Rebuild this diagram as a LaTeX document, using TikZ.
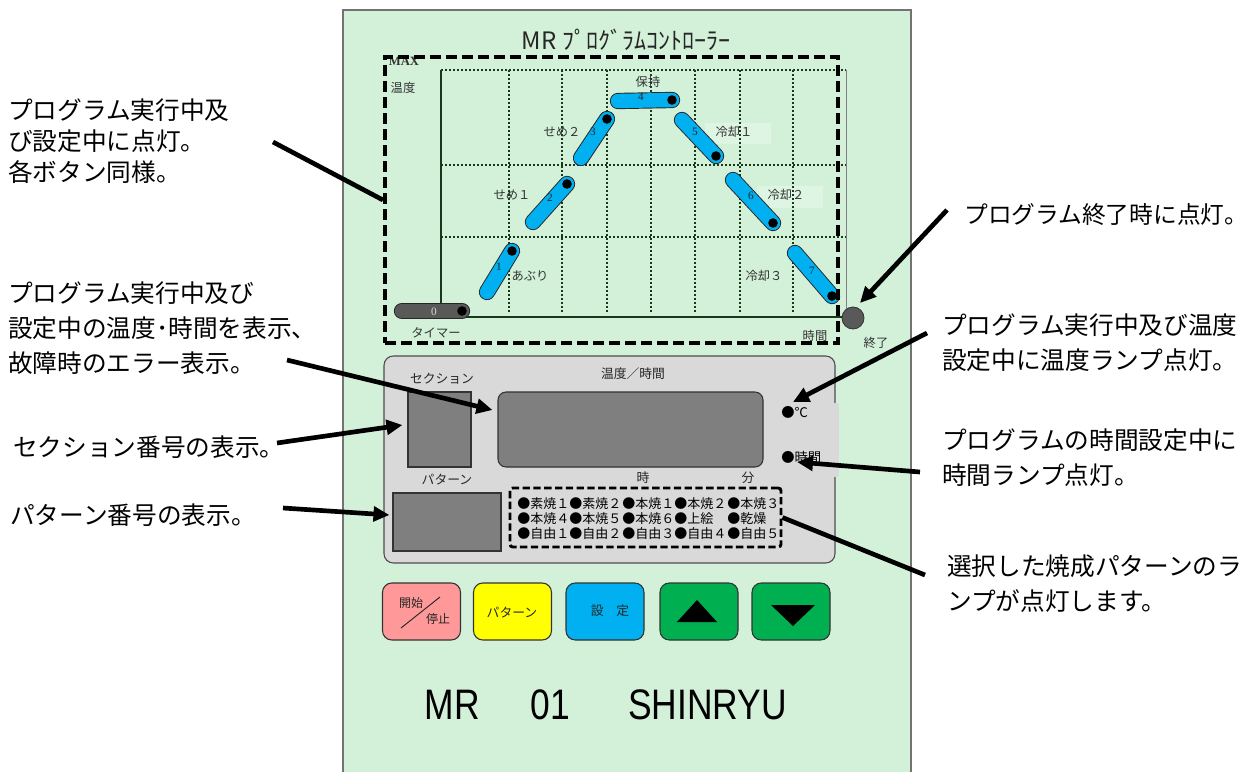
\documentclass[tikz,border=0pt]{standalone}
\usepackage{fontspec}
\usetikzlibrary{arrows.meta,calc}
\newfontfamily\jp{Noto Sans CJK JP}
\newfontfamily\lsans{Liberation Sans}
\newfontfamily\lserif{Liberation Serif}
\definecolor{pgreen}{RGB}{211,241,217}
\definecolor{lgreen}{RGB}{222,245,227}
\definecolor{pgray}{RGB}{217,217,217}
\definecolor{dgray}{RGB}{127,127,127}
\definecolor{pillblue}{RGB}{0,176,240}
\definecolor{pilldark}{RGB}{89,89,89}
\definecolor{bpink}{RGB}{255,153,153}
\definecolor{byellow}{RGB}{255,255,0}
\definecolor{bgreen}{RGB}{0,176,80}
\definecolor{gridc}{RGB}{25,55,25}
\newcommand{\mypill}[3]{%
  \draw[line width=12.2pt, line cap=round, draw=black!85] #1 -- #2;
  \draw[line width=10.8pt, line cap=round, draw=#3] #1 -- #2;
  \fill[black] #2 circle (4.8);}
\begin{document}
\begin{tikzpicture}[x=0.75pt,y=-0.75pt,
  ann/.style={font=\jp\fontsize{18.5pt}{26.25pt}\selectfont, align=left, anchor=west, inner sep=0pt},
  cl/.style={font=\jp\fontsize{9.2pt}{11pt}\selectfont, inner sep=0pt, text=black!80},
  num/.style={font=\lserif\fontsize{8.5pt}{9pt}\selectfont, inner sep=0pt, text=black!85},
  ptxt/.style={font=\jp\fontsize{9.6pt}{11pt}\selectfont, inner sep=0pt, text=black!85},
  lamp/.style={font=\jp\fontsize{9.75pt}{11pt}\selectfont, inner sep=0pt, anchor=west},
  grid/.style={draw=gridc, line width=0.9pt, dash pattern=on 1.2pt off 1.8pt},
  ar/.style={line width=3.5pt, -{Triangle[length=12pt,width=11pt]}},
  ln/.style={line width=3.5pt},
  btn/.style={draw=black!80, line width=0.8pt, rounded corners=7pt, minimum width=78*0.75pt, minimum height=57*0.75pt, inner sep=0pt},
  big/.style={font=\lsans\fontsize{32pt}{36pt}\selectfont, inner sep=0pt}]
\useasboundingbox (0,0) rectangle (1260,771);
\fill[white] (0,0) rectangle (1260,771);
% main green panel
\fill[pgreen] (343,10) rectangle (911,775);
\draw[draw=black!55, line width=0.8pt] (343,775) -- (343,10) -- (911,10) -- (911,775);
\node[font=\jp\fontsize{18pt}{20pt}\selectfont, inner sep=0pt, text=black!85] (title) at (626,40) {MR ﾌﾟﾛｸﾞﾗﾑｺﾝﾄﾛｰﾗｰ};
% chart
\fill[lgreen] (705,123) rectangle (771,144);
\fill[lgreen] (757,186) rectangle (823,208);
\foreach \x in {509,562,607,651,695,740,793} \draw[grid] (\x,70) -- (\x,313);
\foreach \y in {165,237} \draw[grid] (441,\y) -- (846,\y);
\draw[grid] (441,70) -- (846,70);
\draw[draw=gridc, line width=1.2pt] (441,70) -- (441,317) -- (846,317);
\draw[draw=black!50, line width=0.7pt] (846,70) -- (846,317);
\node[font=\lserif\bfseries\fontsize{9.5pt}{10pt}\selectfont, inner sep=0pt, text=black!80] (max) at (404,61) {MAX};
\node[cl] (ondo) at (403,88) {温度};
\node[cl] (hoji) at (648,82) {保持};
\node[cl] (seme2) at (562,132) {せめ２};
\node[cl] (rk1) at (734,132) {冷却１};
\node[cl] (seme1) at (512,195) {せめ１};
\node[cl] (rk2) at (786,195) {冷却２};
\node[cl] (abu) at (530,276) {あぶり};
\node[cl] (rk3) at (764,276) {冷却３};
\node[cl] (timer) at (436,333) {タイマー};
\node[cl] (jikan) at (815,336) {時間};
\node[cl] (shuryo) at (876,343) {終了};
% pills
\mypill{(402,311)}{(462,311)}{pilldark}
\mypill{(487,292)}{(512,251)}{pillblue}
\mypill{(533,222)}{(567,184)}{pillblue}
\mypill{(581,158)}{(607,119)}{pillblue}
\mypill{(618,101)}{(672,100)}{pillblue}
\mypill{(682,120)}{(716,156)}{pillblue}
\mypill{(733,180)}{(773,223)}{pillblue}
\mypill{(795,253)}{(832,296)}{pillblue}
\node[num, text=black!15] (n0) at (434,312) {0};
\node[num] (n1) at (499,267) {1};
\node[num] (n2) at (550,198) {2};
\node[num] (n3) at (593,132) {3};
\node[num] (n4) at (641,97) {4};
\node[num] (n5) at (695,132) {5};
\node[num] (n6) at (751,196) {6};
\node[num] (n7) at (812,271) {7};
\node[circle, fill=pilldark, draw=black!80, line width=0.6pt, minimum size=22*0.75pt, inner sep=0pt] (endlamp) at (853,318) {};
\node[draw=black, line width=3pt, dash pattern=on 8pt off 4pt, minimum width=453*0.75pt, minimum height=286*0.75pt, inner sep=0pt] (chart) at (611.5,200) {};
% display panel
\draw[fill=pgray, draw=black!70, line width=0.8pt, rounded corners=7pt] (384,356) rectangle (835,563);
\fill[pgray] (833,403) rectangle (839,477);
\node[ptxt] (secl) at (442,379) {セクション};
\node[ptxt] (tdl) at (633,374) {温度／時間};
\node[draw=black!80, fill=dgray, line width=0.8pt, minimum width=63*0.75pt, minimum height=75*0.75pt, inner sep=0pt] (secbox) at (439.5,429.5) {};
\node[draw=black!80, fill=dgray, line width=0.8pt, rounded corners=6pt, minimum width=265*0.75pt, minimum height=75*0.75pt, inner sep=0pt] (disp) at (630.5,429.5) {};
\node[ptxt] (patl) at (447,480) {パターン};
\node[draw=black!80, fill=dgray, line width=0.8pt, minimum width=108*0.75pt, minimum height=58*0.75pt, inner sep=0pt] (patbox) at (447,522) {};
\node[ptxt] (hr) at (643,478) {時};
\node[ptxt] (mn) at (748,478) {分};
\node[font=\jp\fontsize{10pt}{11pt}\selectfont, inner sep=0pt, anchor=west] (lampC) at (781,412) {●℃};
\node[font=\jp\fontsize{10pt}{11pt}\selectfont, inner sep=0pt, anchor=west] (lampT) at (781,457) {●時間};
\node[draw=black, line width=2.2pt, dash pattern=on 5.5pt off 2.6pt, rounded corners=2pt, minimum width=271*0.75pt, minimum height=59*0.75pt, inner sep=0pt] (lampbox) at (645.5,517.5) {};
\node[lamp] (l11) at (517,504) {●素焼１};
\node[lamp] (l12) at (569,504) {●素焼２};
\node[lamp] (l13) at (622,504) {●本焼１};
\node[lamp] (l14) at (674,504) {●本焼２};
\node[lamp] (l15) at (727,504) {●本焼３};
\node[lamp] (l21) at (517,519) {●本焼４};
\node[lamp] (l22) at (569,519) {●本焼５};
\node[lamp] (l23) at (622,519) {●本焼６};
\node[lamp] (l24) at (674,519) {●上絵};
\node[lamp] (l25) at (727,519) {●乾燥};
\node[lamp] (l31) at (517,534) {●自由１};
\node[lamp] (l32) at (569,534) {●自由２};
\node[lamp] (l33) at (622,534) {●自由３};
\node[lamp] (l34) at (674,534) {●自由４};
\node[lamp] (l35) at (727,534) {●自由５};
% buttons
\node[btn, fill=bpink] (b1) at (421.5,611.5) {};
\node[btn, fill=byellow] (b2) at (512.5,611.5) {};
\node[btn, fill=pillblue] (b3) at (605,611.5) {};
\node[btn, fill=bgreen] (b4) at (699,611.5) {};
\node[btn, fill=bgreen] (b5) at (791,611.5) {};
\node[ptxt, font=\jp\fontsize{9pt}{10pt}\selectfont] (kaishi) at (411,603) {開始};
\node[ptxt, font=\jp\fontsize{9pt}{10pt}\selectfont] (teishi) at (438,619) {停止};
\draw[black!85, line width=0.7pt] (401,628) -- (440,597);
\node[ptxt] (pattxt) at (512,613) {パターン};
\node[ptxt] (settei) at (610,611) {設\hspace{1em}定};
\fill[black] (677,622) -- (717,622) -- (697,600) -- cycle;
\fill[black] (771,605) -- (815,605) -- (793,626) -- cycle;
% brand
\node[big] (mr) at (452.5,705) {\scalebox{0.83}[1]{MR}};
\node[big] (z1) at (550.5,705) {\scalebox{0.83}[1]{01}};
\node[big] (shin) at (707.5,705) {\scalebox{0.83}[1]{SHINRYU}};
% annotations
\node[ann, font=\jp\fontsize{18.5pt}{23.25pt}\selectfont] (t1) at (8,141) {プログラム実行中及\\び設定中に点灯。\\各ボタン同様。};
\node[ann] (t2) at (8,328) {プログラム実行中及び\\設定中の温度･時間を表示、\\故障時のエラー表示。};
\node[ann] (t3) at (13,447) {セクション番号の表示。};
\node[ann] (t4) at (10,515) {パターン番号の表示。};
\node[ann, font=\jp\fontsize{17.8pt}{24pt}\selectfont] (t5) at (964,215) {プログラム終了時に点灯。};
\node[ann] (t6) at (942,342.5) {プログラム実行中及び温度\\設定中に温度ランプ点灯。};
\node[ann] (t7) at (942,458) {プログラムの時間設定中に\\時間ランプ点灯。};
\node[ann] (t8) at (947,583.5) {選択した焼成パターンのラ\\ンプが点灯します。};
\coordinate (s1) at (273,142);
\coordinate (s2) at (287,360);
\coordinate (s3) at (277,443);
\coordinate (s4) at (283,508);
\coordinate (s5) at (947,210);
\coordinate (s6) at (927,333);
\coordinate (s7) at (920,472);
\coordinate (s8) at (925,575);
\draw[ln] (s1) -- (chart.west);
\draw[ar] (s2) -- ($(disp.west)+(-5,-19.5)$);
\draw[ar] (s3) -- ($(secbox.west)+(-5,-4.5)$);
\draw[ar] (s4) -- ($(patbox.west)+(-3,-7)$);
\draw[ar] (s5) -- ($(endlamp.center)+(7,-15)$);
\draw[ar] (s6) -- ($(lampC.west)+(12,-10)$);
\draw[ar] (s7) -- ($(lampT.west)+(16,5)$);
\draw[ln] (s8) -- (lampbox.east);
\end{tikzpicture}
\end{document}
